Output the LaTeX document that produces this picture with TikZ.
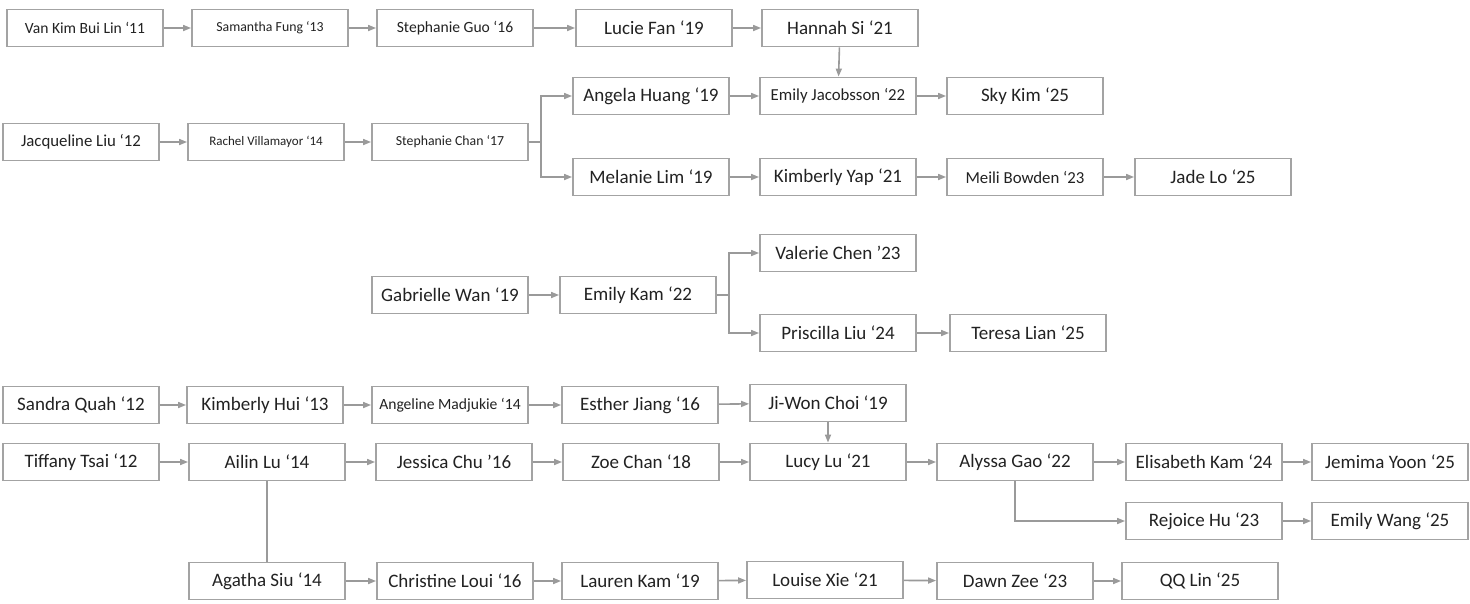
\documentclass[tikz,border=0pt]{standalone}
\usepackage{fontspec}
\setmainfont{Carlito}
\usetikzlibrary{arrows.meta}
\definecolor{boxgray}{HTML}{A3A3A3}
\definecolor{linegray}{HTML}{9A9A9A}
\definecolor{textgray}{HTML}{222222}
\tikzset{
    sister/.style={draw=boxgray,line width=1.8pt,fill=white,rectangle,
        minimum width=156pt,minimum height=37pt,inner sep=0pt,
        text=textgray,font=\fontsize{19}{21}\selectfont},
    midsis/.style={sister,font=\fontsize{16.8}{19}\selectfont},
    smallsis/.style={sister,font=\fontsize{15.6}{18}\selectfont},
    tinysis/.style={sister,font=\fontsize{13.8}{16}\selectfont},
    line/.style={draw=linegray,line width=1.6pt,-{Triangle[length=8pt,width=6pt]}},
    plainline/.style={draw=linegray,line width=1.6pt}
}

\begin{document}
\begin{tikzpicture}[x=1pt,y=-1pt]
        \useasboundingbox (0,0) rectangle (1470,603);

        % first family
        \node[smallsis] (vankim) at (85,28) {Van Kim Bui Lin ‘11};
        \node[tinysis] (samantha) at (270,28) {Samantha Fung ‘13};
        \node[smallsis] (stephguo) at (455,28) {Stephanie Guo ‘16};
        \node[sister] (lucie) at (654,28) {Lucie Fan ‘19};
        \node[sister] (hannah) at (840,28) {Hannah Si ‘21};

        \node[sister] (angela) at (651,96) {Angela Huang ‘19};
        \node[midsis] (emilyj) at (838,96) {Emily Jacobsson ‘22};
        \node[sister] (skykim) at (1025,96) {Sky Kim ‘25};

        \node[midsis] (jacqueline) at (81,142) {Jacqueline Liu ‘12};
        \node[tinysis,font=\fontsize{13}{15}\selectfont] (rachel) at (266,142) {Rachel Villamayor ‘14};
        \node[tinysis] (stephchan) at (450,142) {Stephanie Chan ‘17};

        \node[sister] (melanie) at (651,177) {Melanie Lim ‘19};
        \node[sister] (kimyap) at (838,177) {Kimberly Yap ‘21};
        \node[midsis] (meili) at (1025,177) {Meili Bowden ‘23};
        \node[sister] (jade) at (1213,177) {Jade Lo ‘25};

        \draw[line] (vankim) -- (samantha);
        \draw[line] (samantha) -- (stephguo);
        \draw[line] (stephguo) -- (lucie);
        \draw[line] (lucie) -- (hannah);
        \draw[line] (hannah) -- (emilyj);
        \draw[line] (angela) -- (emilyj);
        \draw[line] (emilyj) -- (skykim);
        \draw[line] (jacqueline) -- (rachel);
        \draw[line] (rachel) -- (stephchan);
        \draw[line] (stephchan.east) -- ++(12,0) |- (angela.west);
        \draw[line] (stephchan.east) -- ++(12,0) |- (melanie.west);
        \draw[line] (melanie) -- (kimyap);
        \draw[line] (kimyap) -- (meili);
        \draw[line] (meili) -- (jade);

        % second family
        \node[sister] (gabrielle) at (450,295) {Gabrielle Wan ‘19};
        \node[sister] (emilykam) at (638,295) {Emily Kam ‘22};
        \node[sister] (valerie) at (838,253) {Valerie Chen ’23};
        \node[sister] (priscilla) at (838,333) {Priscilla Liu ‘24};
        \node[sister] (teresa) at (1028,333) {Teresa Lian ‘25};

        \draw[line] (gabrielle) -- (emilykam);
        \draw[line] (emilykam.east) -- ++(12,0) |- (valerie.west);
        \draw[line] (emilykam.east) -- ++(12,0) |- (priscilla.west);
        \draw[line] (priscilla) -- (teresa);

        % third family
        \node[sister] (sandra) at (81,405) {Sandra Quah ‘12};
        \node[sister] (kimhui) at (265,405) {Kimberly Hui ‘13};
        \node[smallsis] (angeline) at (450,405) {Angeline Madjukie ‘14};
        \node[sister] (esther) at (640,405) {Esther Jiang ‘16};
        \node[sister] (jiwon) at (828,403) {Ji-Won Choi ‘19};

        \node[sister] (tiffany) at (81,462) {Tiffany Tsai ‘12};
        \node[sister] (ailin) at (267,462) {Ailin Lu ‘14};
        \node[sister] (jessica) at (454,462) {Jessica Chu ’16};
        \node[sister] (zoe) at (641,462) {Zoe Chan ‘18};
        \node[sister] (lucy) at (828,462) {Lucy Lu ‘21};
        \node[sister] (alyssa) at (1015,462) {Alyssa Gao ‘22};
        \node[sister] (elisabeth) at (1204,462) {Elisabeth Kam ‘24};
        \node[sister] (jemima) at (1390,462) {Jemima Yoon ‘25};

        \node[sister] (rejoice) at (1204,521) {Rejoice Hu ‘23};
        \node[sister] (emilywang) at (1390,521) {Emily Wang ‘25};

        \node[sister] (agatha) at (267,581) {Agatha Siu ‘14};
        \node[sister] (christine) at (455,581) {Christine Loui ‘16};
        \node[sister] (lauren) at (640,581) {Lauren Kam ‘19};
        \node[sister] (louise) at (825,580) {Louise Xie ‘21};
        \node[sister] (dawn) at (1015,581) {Dawn Zee ‘23};
        \node[sister] (qqlin) at (1200,581) {QQ Lin ‘25};

        \draw[line] (sandra) -- (kimhui);
        \draw[line] (kimhui) -- (angeline);
        \draw[line] (angeline) -- (esther);
        \draw[line] (esther) -- (jiwon);
        \draw[line] (jiwon) -- (lucy);
        \draw[line] (tiffany) -- (ailin);
        \draw[line] (ailin) -- (jessica);
        \draw[line] (jessica) -- (zoe);
        \draw[line] (zoe) -- (lucy);
        \draw[line] (lucy) -- (alyssa);
        \draw[line] (alyssa) -- (elisabeth);
        \draw[line] (elisabeth) -- (jemima);
        \draw[line] (alyssa.south) |- (rejoice.west);
        \draw[line] (rejoice) -- (emilywang);
        \draw[plainline] (ailin) -- (agatha);
        \draw[line] (agatha) -- (christine);
        \draw[line] (christine) -- (lauren);
        \draw[line] (lauren) -- (louise);
        \draw[line] (louise) -- (dawn);
        \draw[line] (dawn) -- (qqlin);
    \end{tikzpicture}
\end{document}
